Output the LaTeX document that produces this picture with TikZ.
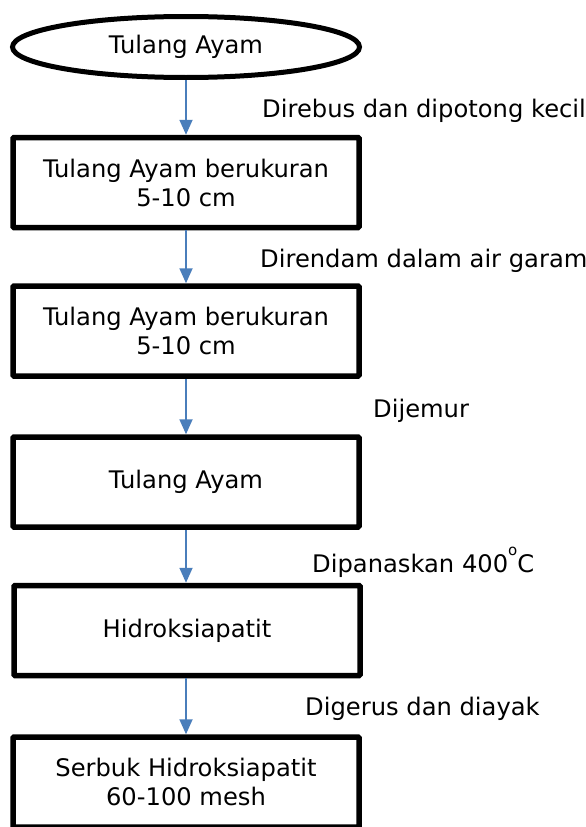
\documentclass[tikz,border=0pt]{standalone}
\usepackage{fontspec}
\setmainfont{DejaVu Sans}
\usetikzlibrary{shapes.geometric,arrows.meta}
\definecolor{arrowblue}{RGB}{74,126,187}
\tikzset{
  txt/.style={font=\fontsize{24.2}{29}\selectfont, align=center},
  box/.style={txt, draw, line width=5.5pt, rectangle, rounded corners=1pt, minimum width=346pt, minimum height=90pt, inner sep=0pt},
  oval/.style={txt, draw, line width=5pt, ellipse, minimum width=347pt, minimum height=61pt, inner sep=0pt},
  lbl/.style={font=\fontsize{24.2}{29}\selectfont, anchor=base west, inner sep=0pt},
  arr/.style={-{Triangle[width=13pt,length=15pt]}, draw=arrowblue, fill=arrowblue, line width=1.8pt}
}
\begin{document}
\begin{tikzpicture}[x=1pt,y=-1pt]
\useasboundingbox (0,0) rectangle (586,827);
\node[oval] (start) at (186,47) {Tulang Ayam};
\node[box] (b1) at (186,182.5) {Tulang Ayam berukuran\\5-10 cm};
\node[box] (b2) at (186,331) {Tulang Ayam berukuran\\5-10 cm};
\node[box] (b3) at (186,482) {Tulang Ayam};
\node[box] (b4) at (187,630.5) {Hidroksiapatit};
\node[box] (b5) at (186,782) {Serbuk Hidroksiapatit\\60-100 mesh};
\draw[arr] (start.south) -- (b1.north);
\draw[arr] (b1.south) -- (b2.north);
\draw[arr] (b2.south) -- (b3.north);
\draw[arr] (b3.south) -- (b4.north -| b3.south);
\draw[arr] (b4.south -| b5.north) -- (b5.north);
\node[lbl] (l1) at (262,117) {Direbus dan dipotong kecil};
\node[lbl] (l2) at (260,267) {Direndam dalam air garam};
\node[lbl] (l3) at (373,417) {Dijemur};
\node[lbl] (l4) at (312,572) {Dipanaskan 400\raisebox{1.25ex}{\fontsize{15}{15}\selectfont o}C};
\node[lbl] (l5) at (305,715) {Digerus dan diayak};
\end{tikzpicture}
\end{document}
